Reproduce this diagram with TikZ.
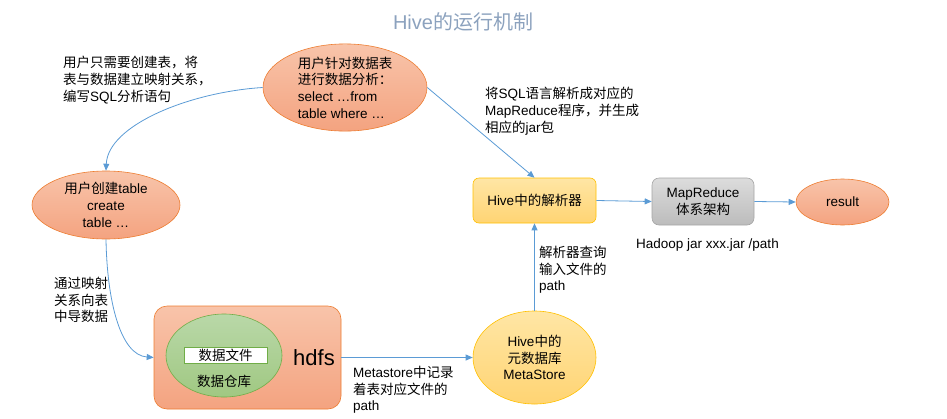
\documentclass[tikz,border=0pt]{standalone}
\usepackage{fontspec}
\setmainfont{Liberation Sans}
\newfontfamily\cjk{Noto Sans CJK SC}
\usetikzlibrary{shapes.geometric,arrows.meta}
\newcommand\zh[1]{{\cjk #1}}
\definecolor{arrowblue}{RGB}{91,155,213}
\definecolor{titlecol}{RGB}{140,162,190}
\definecolor{salmontop}{RGB}{248,196,170}
\definecolor{salmonbot}{RGB}{244,163,128}
\definecolor{salmonedge}{RGB}{237,125,49}
\definecolor{yeltop}{RGB}{255,230,165}
\definecolor{yelbot}{RGB}{255,212,115}
\definecolor{yeledge}{RGB}{255,192,0}
\definecolor{graytop}{RGB}{220,220,220}
\definecolor{graybot}{RGB}{188,188,188}
\definecolor{grayedge}{RGB}{165,165,165}
\definecolor{greentop}{RGB}{185,216,168}
\definecolor{greenbot}{RGB}{160,200,130}
\definecolor{greenedge}{RGB}{112,173,71}
\begin{document}
\begin{tikzpicture}[x=1pt,y=-1pt,
  every node/.style={font=\fontsize{13.5}{16.7}\selectfont, text=black, inner sep=0pt},
  conn/.style={draw=arrowblue, line width=0.8pt, -{Triangle[length=7pt,width=6pt]}},
  salmonell/.style={ellipse, draw=salmonedge, line width=0.6pt, top color=salmontop, bottom color=salmonbot, align=center},
  yelell/.style={ellipse, draw=yeledge, line width=0.6pt, top color=yeltop, bottom color=yelbot, align=center},
  yelbox/.style={rectangle, rounded corners=6pt, draw=yeledge, line width=0.6pt, top color=yeltop, bottom color=yelbot, align=center},
  graybox/.style={rectangle, rounded corners=7pt, draw=grayedge, line width=0.6pt, top color=graytop, bottom color=graybot, align=center},
  hdfsbox/.style={rectangle, rounded corners=13pt, draw=salmonedge, line width=0.6pt, top color=salmontop, bottom color=salmonbot},
  greenell/.style={ellipse, draw=greenedge, line width=0.6pt, top color=greentop, bottom color=greenbot},
  filebox/.style={rectangle, draw=greenedge, line width=0.6pt, fill=white},
  lbl/.style={anchor=north west, align=left}
]
\useasboundingbox (0,0) rectangle (947,418);

% title
\node[font=\fontsize{20}{24}\selectfont, text=titlecol] (title) at (463,22) {Hive\zh{的运行机制}};

% nodes
\node[salmonell, minimum width=164pt, minimum height=83pt, align=left] (top) at (345,87.5)
  {\zh{用户针对数据表}\\\zh{进行数据分析：}\\select …from\\table where …};
\node[salmonell, minimum width=148pt, minimum height=68pt] (left) at (106,205)
  {\zh{用户创建}table\\create\\table …};
\node[yelbox, minimum width=123pt, minimum height=45pt] (parser) at (534.5,200.5) {Hive\zh{中的解析器}};
\node[graybox, minimum width=102pt, minimum height=47pt] (mr) at (703,201.5) {MapReduce\\\zh{体系架构}};
\node[salmonell, minimum width=93pt, minimum height=46pt] (result) at (842.5,202) {result};
\node[yelell, minimum width=123pt, minimum height=93pt] (meta) at (534.5,357.5)
  {Hive\zh{中的}\\\zh{元数据库}\\MetaStore};
\node[hdfsbox, minimum width=187pt, minimum height=103pt] (hdfs) at (247.5,357.5) {};
\node[greenell, minimum width=116pt, minimum height=83pt] (green) at (224,355.5) {};
\node[filebox, minimum width=83pt, minimum height=16pt] (file) at (225.5,355) {\zh{数据文件}};
\node (wh) at (224,381) {\zh{数据仓库}};
\node[font=\fontsize{22}{26}\selectfont] (hdfstext) at (314,358) {hdfs};

% labels
\node[lbl] (l1) at (63,56) {\zh{用户只需要创建表，将}\\\zh{表与数据建立映射关系，}\\\zh{编写}SQL\zh{分析语句}};
\node[lbl] (l2) at (485,87) {\zh{将}SQL\zh{语言解析成对应的}\\MapReduce\zh{程序，并生成}\\\zh{相应的}jar\zh{包}};
\node[lbl] (l3) at (539,246) {\zh{解析器查询}\\\zh{输入文件的}\\path};
\node[lbl] (l4) at (54,277) {\zh{通过映射}\\\zh{关系向表}\\\zh{中导数据}};
\node[lbl] (l5) at (353,366) {Metastore\zh{中记录}\\\zh{着表对应文件的}\\path};
\node[lbl] (l6) at (636,239) {Hadoop jar xxx.jar /path};

% connectors
\draw[conn] (top.west) .. controls (190,92) and (108,125) .. (left.north);
\draw[conn] (left.south) .. controls (107,300) and (120,355) .. (hdfs.west);
\draw[conn] (top.east) -- (parser.north);
\draw[conn] (parser.east) -- (mr.west);
\draw[conn] (mr.east) -- (result.west);
\draw[conn] (meta.north) -- (parser.south);
\draw[conn] (hdfs.east) -- (meta.west);
\end{tikzpicture}
\end{document}
